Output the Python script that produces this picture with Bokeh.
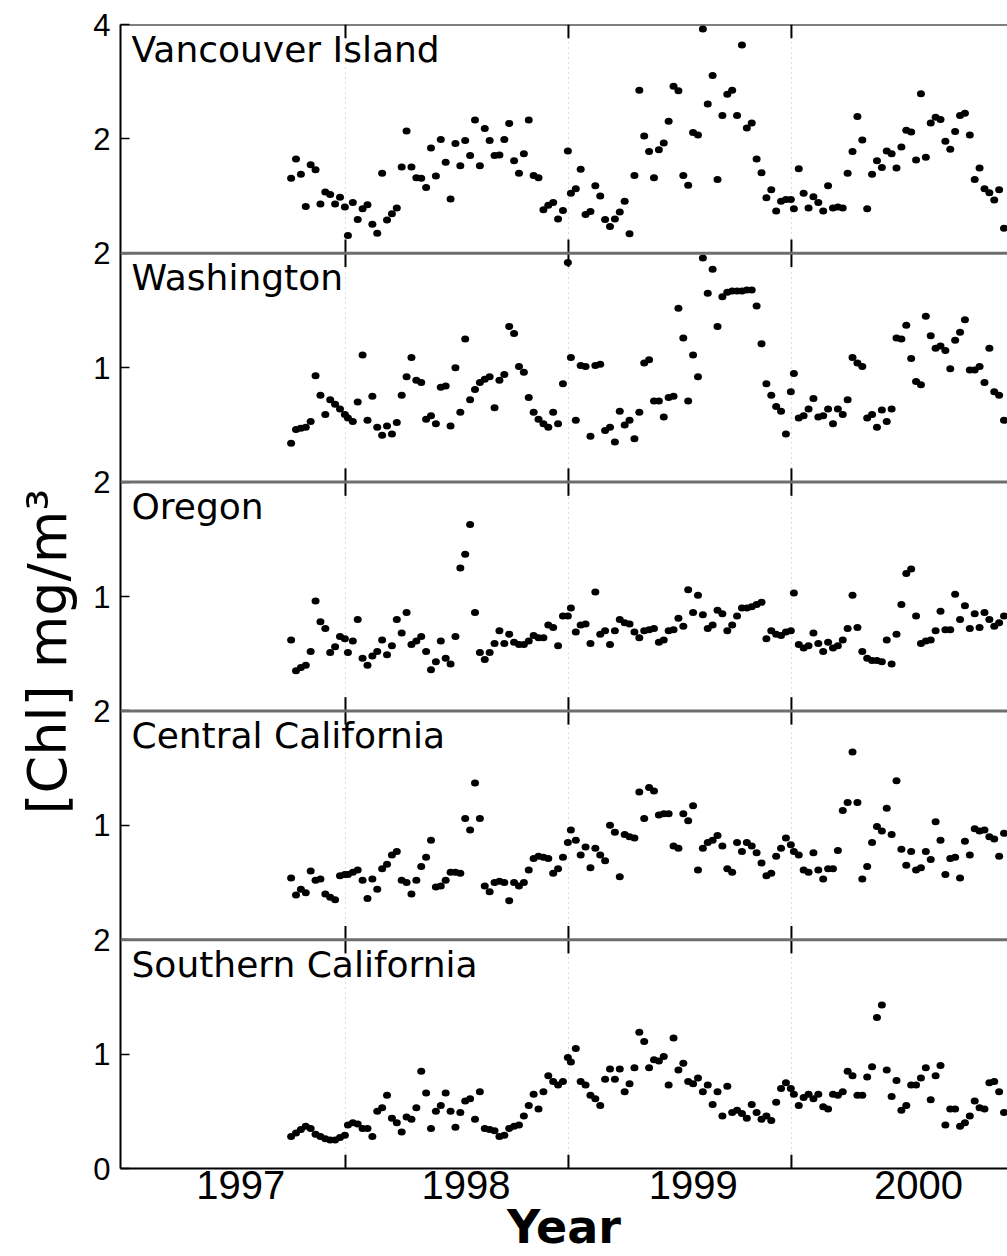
from bokeh.plotting import figure
from bokeh.models import Range1d, FixedTicker, Span, Label, Title, ColumnDataSource
from bokeh.embed import file_html
from bokeh.resources import INLINE

# ---------------------------------------------------------------- time axis
# SeaWiFS 8-day composite periods (start day of year)
PERIOD_DOY = [1, 9, 17, 25, 33, 41, 49, 57, 65, 73, 81, 89, 97, 105, 113, 121,
              129, 137, 145, 153, 161, 169, 177, 185, 193, 201, 209, 217, 225,
              233, 241, 249, 257, 265, 273, 281, 289, 297, 305, 313, 321, 329,
              337, 345, 353, 361]
FIRST_DOY_1997 = 273
N_PERIODS_2000 = 44

# ---------------------------------------------------------------- data [Chl] mg/m3
VI_1997 = [1.31, 1.65, 1.38, 0.82, 1.55, 1.46, 0.86, 1.07, 1.03, 0.86, 0.98, 0.81]
VI_1998 = [0.31, 0.89, 0.59, 0.78, 0.85, 0.51, 0.35, 1.40, 0.58, 0.69, 0.79, 1.51,
           2.14, 1.51, 1.32, 1.31, 1.15, 1.84, 1.35, 1.99, 1.59, 0.95, 1.92, 1.53,
           1.97, 1.71, 2.33, 1.53, 2.18, 1.97, 1.71, 1.72, 1.99, 2.27, 1.62, 1.40,
           1.74, 2.33, 1.36, 1.32, 0.76, 0.84, 0.89, 0.60, 0.75, 1.79]
VI_1999 = [1.05, 1.13, 1.47, 0.68, 0.73, 1.18, 1.00, 0.59, 0.47, 0.60, 0.72, 0.91,
           0.34, 1.36, 2.85, 2.05, 1.78, 1.32, 1.81, 1.93, 2.31, 2.92, 2.84, 1.36,
           1.19, 2.11, 2.07, 3.92, 2.61, 3.11, 1.29, 2.41, 2.78, 2.85, 2.41, 3.64,
           2.19, 2.28, 1.65, 1.41, 0.97, 1.11, 0.74, 0.91, 0.94, 0.94]
VI_2000 = [0.78, 1.48, 1.05, 0.79, 0.99, 0.89, 0.74, 1.18, 0.79, 0.81, 0.79, 1.40,
           1.78, 2.39, 1.98, 0.78, 1.38, 1.62, 1.50, 1.79, 1.74, 1.49, 1.86, 2.15,
           2.12, 1.63, 2.79, 1.68, 2.28, 2.38, 2.34, 1.96, 1.82, 2.13, 2.41, 2.45,
           2.07, 1.29, 1.49, 1.13, 1.06, 0.93, 1.11, 0.44]

WA_1997 = [0.34, 0.46, 0.47, 0.48, 0.53, 0.93, 0.76, 0.59, 0.72, 0.68, 0.64, 0.59]
WA_1998 = [0.56, 0.53, 0.70, 1.11, 0.54, 0.75, 0.48, 0.41, 0.49, 0.42, 0.52, 0.76,
           0.92, 1.09, 0.89, 0.87, 0.55, 0.58, 0.51, 0.83, 0.84, 0.49, 1.00, 0.61,
           1.25, 0.72, 0.81, 0.87, 0.90, 0.92, 0.65, 0.89, 0.94, 1.36, 1.30, 1.01,
           0.96, 0.74, 0.61, 0.55, 0.51, 0.48, 0.61, 0.51, 0.86, 1.92]
WA_1999 = [1.09, 0.54, 1.02, 1.01, 0.40, 1.02, 1.03, 0.45, 0.48, 0.35, 0.62, 0.50,
           0.54, 0.38, 0.61, 1.04, 1.07, 0.71, 0.71, 0.57, 0.74, 0.75, 1.52, 1.26,
           0.71, 1.11, 0.92, 1.96, 1.65, 1.86, 1.36, 1.62, 1.66, 1.67, 1.67, 1.67,
           1.68, 1.68, 1.54, 1.21, 0.86, 0.76, 0.66, 0.62, 0.42, 0.79]
WA_2000 = [0.95, 0.56, 0.58, 0.64, 0.73, 0.57, 0.58, 0.64, 0.51, 0.64, 0.59, 0.72,
           1.09, 1.04, 1.01, 0.56, 0.59, 0.48, 0.63, 0.53, 0.64, 1.26, 1.25, 1.37,
           1.08, 0.88, 0.85, 1.45, 1.28, 1.17, 1.19, 1.15, 0.99, 1.24, 1.31, 1.42,
           0.98, 0.98, 1.01, 0.87, 1.17, 0.79, 0.76, 0.54]

OR_1997 = [0.62, 0.35, 0.38, 0.40, 0.52, 0.96, 0.78, 0.72, 0.51, 0.56, 0.65, 0.63]
OR_1998 = [0.51, 0.61, 0.80, 0.46, 0.40, 0.48, 0.52, 0.62, 0.49, 0.57, 0.80, 0.68,
           0.86, 0.58, 0.61, 0.65, 0.52, 0.36, 0.43, 0.61, 0.46, 0.41, 0.65, 1.25,
           1.37, 1.63, 0.86, 0.51, 0.45, 0.51, 0.59, 0.70, 0.59, 0.67, 0.60, 0.58,
           0.58, 0.61, 0.66, 0.64, 0.64, 0.75, 0.73, 0.57, 0.83, 0.83]
OR_1999 = [0.90, 0.69, 0.75, 0.76, 0.59, 1.04, 0.67, 0.70, 0.58, 0.70, 0.80, 0.77,
           0.76, 0.69, 0.64, 0.70, 0.71, 0.72, 0.60, 0.62, 0.70, 0.71, 0.81, 0.74,
           1.06, 0.86, 1.01, 0.84, 0.72, 0.75, 0.88, 0.85, 0.70, 0.75, 0.83, 0.90,
           0.90, 0.91, 0.93, 0.95, 0.63, 0.70, 0.67, 0.66, 0.69, 0.70]
OR_2000 = [1.03, 0.58, 0.55, 0.57, 0.68, 0.59, 0.52, 0.60, 0.55, 0.57, 0.62, 0.72,
           1.01, 0.73, 0.52, 0.46, 0.44, 0.44, 0.43, 0.62, 0.41, 0.67, 0.93, 1.20,
           1.24, 0.83, 0.59, 0.61, 0.62, 0.70, 0.87, 0.71, 0.71, 1.02, 0.80, 0.92,
           0.72, 0.85, 0.73, 0.86, 0.80, 0.74, 0.77, 0.83]

CC_1997 = [0.54, 0.39, 0.44, 0.41, 0.60, 0.52, 0.53, 0.40, 0.37, 0.35, 0.56, 0.57]
CC_1998 = [0.57, 0.59, 0.61, 0.52, 0.36, 0.53, 0.44, 0.62, 0.66, 0.74, 0.77, 0.52,
           0.50, 0.40, 0.52, 0.64, 0.72, 0.87, 0.46, 0.47, 0.52, 0.59, 0.59, 0.58,
           1.06, 0.96, 1.37, 1.06, 0.47, 0.42, 0.50, 0.51, 0.50, 0.34, 0.50, 0.47,
           0.50, 0.61, 0.71, 0.73, 0.72, 0.71, 0.58, 0.62, 0.72, 0.85]
CC_1999 = [0.96, 0.87, 0.74, 0.81, 0.63, 0.80, 0.74, 0.69, 1.00, 0.94, 0.55, 0.92,
           0.90, 0.89, 1.29, 1.06, 1.33, 1.30, 1.09, 1.10, 1.10, 0.82, 0.80, 1.10,
           1.04, 1.17, 0.61, 0.80, 0.85, 0.87, 0.91, 0.82, 0.62, 0.59, 0.85, 0.77,
           0.85, 0.82, 0.76, 0.67, 0.56, 0.58, 0.73, 0.80, 0.89, 0.83]
CC_2000 = [0.77, 0.74, 0.61, 0.59, 0.76, 0.61, 0.53, 0.62, 0.62, 0.78, 1.13, 1.20,
           1.64, 1.20, 0.53, 0.64, 0.85, 0.99, 0.95, 1.15, 0.92, 1.39, 0.79, 0.65,
           0.77, 0.61, 0.63, 0.77, 0.70, 1.03, 0.87, 0.57, 0.71, 0.72, 0.54, 0.86,
           0.74, 0.97, 0.95, 0.96, 0.90, 0.88, 0.73, 0.93]

SC_1997 = [0.28, 0.31, 0.34, 0.37, 0.35, 0.30, 0.28, 0.26, 0.25, 0.25, 0.27, 0.29]
SC_1998 = [0.38, 0.40, 0.39, 0.35, 0.35, 0.28, 0.50, 0.53, 0.64, 0.44, 0.40, 0.32,
           0.45, 0.43, 0.53, 0.85, 0.66, 0.35, 0.50, 0.55, 0.66, 0.50, 0.36, 0.49,
           0.59, 0.61, 0.43, 0.67, 0.35, 0.34, 0.33, 0.28, 0.29, 0.35, 0.37, 0.38,
           0.46, 0.55, 0.65, 0.52, 0.67, 0.81, 0.76, 0.73, 0.76, 0.97]
SC_1999 = [0.93, 1.05, 0.76, 0.73, 0.64, 0.61, 0.55, 0.78, 0.87, 0.78, 0.87, 0.67,
           0.74, 0.88, 1.19, 1.11, 0.88, 0.95, 0.94, 0.98, 0.73, 1.14, 0.86, 0.92,
           0.76, 0.74, 0.79, 0.67, 0.73, 0.56, 0.67, 0.46, 0.72, 0.49, 0.51, 0.48,
           0.44, 0.56, 0.49, 0.43, 0.46, 0.42, 0.58, 0.70, 0.75, 0.70]
SC_2000 = [0.65, 0.55, 0.62, 0.65, 0.61, 0.65, 0.54, 0.52, 0.65, 0.64, 0.67, 0.85,
           0.81, 0.64, 0.64, 0.80, 0.89, 1.32, 1.43, 0.86, 0.63, 0.77, 0.51, 0.55,
           0.73, 0.73, 0.79, 0.88, 0.60, 0.81, 0.90, 0.38, 0.52, 0.52, 0.37, 0.40,
           0.46, 0.59, 0.53, 0.52, 0.75, 0.76, 0.67, 0.49]

REGIONS = ["Vancouver Island", "Washington", "Oregon",
           "Central California", "Southern California"]
SERIES = [VI_1997 + VI_1998 + VI_1999 + VI_2000,
          WA_1997 + WA_1998 + WA_1999 + WA_2000,
          OR_1997 + OR_1998 + OR_1999 + OR_2000,
          CC_1997 + CC_1998 + CC_1999 + CC_2000,
          SC_1997 + SC_1998 + SC_1999 + SC_2000]
PANEL_MAX = [4, 2, 2, 2, 2]
PANEL_TICKS = [[2, 4], [1, 2], [1, 2], [1, 2], [0, 1, 2]]

YEAR_BOUNDS = [1998, 1999, 2000]
YEAR_LABELS = ["1997", "1998", "1999", "2000"]
YEAR_LABEL_POS = [1997.53, 1998.54, 1999.56, 2000.57]

# ---------------------------------------------------------------- time of each composite (centre of 8-day period)
periods = ([(1997, d) for d in PERIOD_DOY if d >= FIRST_DOY_1997]
           + [(y, d) for y in (1998, 1999) for d in PERIOD_DOY]
           + [(2000, d) for d in PERIOD_DOY[:N_PERIODS_2000]])
t = [y + (d + 3.0) / 365.0 for y, d in periods]
for s in SERIES:
    assert len(s) == len(t), (len(s), len(t))

# ---------------------------------------------------------------- figure
NP = len(REGIONS)
X0, X1 = 1996.991, 2000.969

p = figure(width=1007, height=1256, output_backend="svg", toolbar_location=None,
           x_range=Range1d(X0, X1), y_range=Range1d(0, NP),
           min_border_left=120, min_border_right=0, min_border_top=24,
           min_border_bottom=86, background_fill_color="white",
           border_fill_color="white")
p.outline_line_color = None
p.ygrid.visible = False
p.xgrid.ticker = FixedTicker(ticks=YEAR_BOUNDS)
p.xgrid.grid_line_color = "#b8b8b8"
p.xgrid.grid_line_dash = "1 4"
p.xgrid.grid_line_width = 1

# one band (and its own data range) per region
for i, (name, vals, vmax) in enumerate(zip(REGIONS, SERIES, PANEL_MAX)):
    band = NP - 1 - i
    rname = "panel%d" % i
    p.extra_y_ranges[rname] = Range1d(-band * vmax, (NP - band) * vmax)
    src = ColumnDataSource(dict(t=t, v=vals))
    p.ellipse(x="t", y="v", width=8, height=7, width_units="screen",
              height_units="screen", fill_color="black", line_color=None,
              source=src, y_range_name=rname)
    p.add_layout(Label(x=X0, y=band + 1, x_offset=11, y_offset=-4, text=name,
                       text_baseline="top", text_align="left",
                       text_font="DejaVu Sans", text_font_size="36px",
                       text_color="black"))

# panel separators
for b in range(1, NP):
    p.add_layout(Span(location=b, dimension="width", line_color="#6e6e6e",
                      line_width=3))
p.add_layout(Span(location=NP, dimension="width", line_color="black",
                  line_width=2))

# year-boundary tick marks on every panel edge (pointing inward)
TICK_LEN = 0.06
tx, ty0, ty1 = [], [], []
for b in range(NP + 1):
    lo = b - TICK_LEN if b > 0 else b
    hi = b + TICK_LEN if b < NP else b
    for yb in YEAR_BOUNDS:
        tx.append(yb)
        ty0.append(lo)
        ty1.append(hi)
p.segment(x0=tx, y0=ty0, x1=tx, y1=ty1, line_color="black", line_width=2)

# left axis: each panel's own tick values
tick_pos, overrides = [], {}
for i, (vmax, ticks) in enumerate(zip(PANEL_MAX, PANEL_TICKS)):
    band = NP - 1 - i
    for v in ticks:
        pos = band + v / vmax
        tick_pos.append(pos)
        overrides[pos] = str(v)
yax = p.yaxis[0]
yax.ticker = FixedTicker(ticks=sorted(tick_pos), minor_ticks=[])
yax.major_label_overrides = overrides
yax.major_tick_in = 9
yax.major_tick_out = 0
yax.minor_tick_in = 0
yax.minor_tick_out = 0
yax.major_tick_line_width = 1.5
yax.axis_line_width = 2
yax.major_label_standoff = 10
yax.major_label_text_font = "Liberation Sans"
yax.major_label_text_font_size = "31px"
yax.major_label_text_color = "black"

# y title as a side title (sits a bit below the middle, as in the original)
ytitle = Title(text="[Chl] mg/m³", align="left", offset=354,
               vertical_align="middle", text_font="DejaVu Sans",
               text_font_size="54px", text_font_style="normal",
               text_color="black", standoff=21)
p.add_layout(ytitle, "left")

# bottom axis: year names centred in each year
xax = p.xaxis[0]
xax.ticker = FixedTicker(ticks=YEAR_LABEL_POS, minor_ticks=[])
xax.major_label_overrides = dict(zip(YEAR_LABEL_POS, YEAR_LABELS))
xax.major_tick_in = 0
xax.major_tick_out = 0
xax.minor_tick_in = 0
xax.minor_tick_out = 0
xax.axis_line_width = 2
xax.major_label_standoff = 2
xax.major_label_text_font = "Liberation Sans"
xax.major_label_text_font_size = "40px"
xax.major_label_text_color = "black"
xax.axis_label = "Year"
xax.axis_label_text_font = "DejaVu Sans"
xax.axis_label_text_font_size = "46px"
xax.axis_label_text_font_style = "bold"
xax.axis_label_text_color = "black"
xax.axis_label_standoff = -2

open("out.html", "w").write(file_html(p, INLINE))
